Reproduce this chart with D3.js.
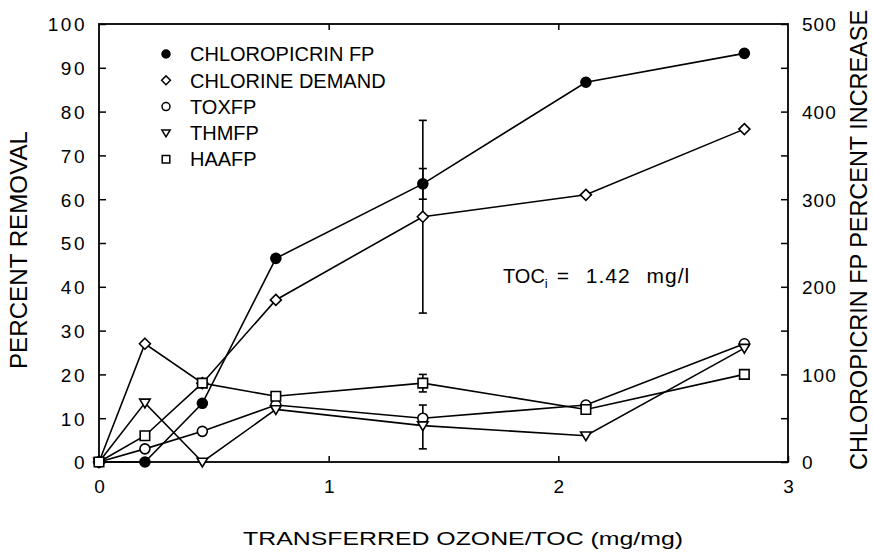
<!DOCTYPE html>
<html><head><meta charset="utf-8">
<script src="https://cdn.jsdelivr.net/npm/d3@7"></script>
<style>
body{margin:0;background:#fff}
svg text{font-family:"Liberation Sans",Arial,Helvetica,sans-serif;fill:#000}
</style>
</head><body>
<svg id="c" width="873" height="555"></svg>
<script>
// ---- data ----
const xValues = [0, 0.2, 0.45, 0.77, 1.41, 2.12, 2.81];
const chloropicrinFP = [0, 0, 13.4, 46.5, 63.5, 86.7, 93.3];
const chlorineDemand = [0, 27, 18, 37, 56, 61, 76];
const toxFP = [0, 3, 7, 13, 10, 13, 27];
const thmFP = [0, 13.5, 0, 12, 8.3, 6, 26];
const haaFP = [0, 6, 18, 15, 18, 12, 20];
const seriesNames = ["CHLOROPICRIN FP", "CHLORINE DEMAND", "TOXFP", "THMFP", "HAAFP"];
const seriesSymbols = ["filledCircle", "diamond", "circle", "triangle", "square"];
// error bars at the 5th x value
const errorX = [1.41, 1.41, 1.41, 1.41];
const errorLow = [34, 60, 3, 16];
const errorHigh = [78, 67, 13, 20];
const xTicks = [0, 1, 2, 3];
const yTicksLeft = [0, 10, 20, 30, 40, 50, 60, 70, 80, 90, 100];
const yTicksRight = [0, 100, 200, 300, 400, 500];
const yTicksRightAll = [0, 50, 100, 150, 200, 250, 300, 350, 400, 450, 500];
const xTitle = "TRANSFERRED OZONE/TOC (mg/mg)";
const yTitleLeft = "PERCENT REMOVAL";
const yTitleRight = "CHLOROPICRIN FP PERCENT INCREASE";
const annMain = "TOC", annSub = "i", annRest = "= 1.42 mg/l";

const allSeries = [chloropicrinFP, chlorineDemand, toxFP, thmFP, haaFP];

// ---- layout ----
const L = 99, R = 788, T = 24, B = 462;
const svg = d3.select("#c");
const x = d3.scaleLinear().domain([0, 3]).range([L, R]);
const y = d3.scaleLinear().domain([0, 100]).range([B, T]);
const y2 = d3.scaleLinear().domain([0, 500]).range([B, T]);

function symbolPath(type, s) {
  if (type === "filledCircle" || type === "circle") {
    return `M${s},0A${s},${s} 0 1,1 ${-s},0A${s},${s} 0 1,1 ${s},0Z`;
  }
  if (type === "diamond") { const d = s * 1.1; return `M0,${-d}L${d},0L0,${d}L${-d},0Z`; }
  if (type === "square") { const d = s * 0.95; return `M${-d},${-d}H${d}V${d}H${-d}Z`; }
  if (type === "triangle") { const w = s * 1.05; return `M${-w},${-s*0.75}H${w}L0,${s*1.0}Z`; }
}

// ---- frame ----
const g = svg.append("g");
g.append("rect").attr("x", L).attr("y", T).attr("width", R - L).attr("height", B - T)
  .attr("fill", "none").attr("stroke", "#000").attr("stroke-width", 1.8);

// left axis
const axL = d3.axisLeft(y).tickValues(yTicksLeft).tickSizeInner(-7).tickSizeOuter(0).tickPadding(12);
const gL = g.append("g").attr("transform", `translate(${L},0)`).call(axL);
gL.select(".domain").remove();
gL.selectAll("line").attr("stroke", "#000").attr("stroke-width", 1.5);
gL.selectAll("text").attr("font-size", 19).attr("letter-spacing", 2.5).attr("dy", "0.36em")
  .attr("font-family", "Liberation Sans, Arial, sans-serif");

// right axis
const axR = d3.axisRight(y2).tickValues(yTicksRightAll).tickSizeInner(-7).tickSizeOuter(0).tickPadding(14)
  .tickFormat(d => yTicksRight.includes(d) ? d : "");
const gR = g.append("g").attr("transform", `translate(${R},0)`).call(axR);
gR.select(".domain").remove();
gR.selectAll("line").attr("stroke", "#000").attr("stroke-width", 1.5);
gR.selectAll("text").attr("font-size", 19).attr("letter-spacing", 1).attr("dy", "0.36em")
  .attr("font-family", "Liberation Sans, Arial, sans-serif");

// bottom axis
const axB = d3.axisBottom(x).tickValues(xTicks).tickFormat(d3.format("d"))
  .tickSizeInner(-6).tickSizeOuter(0).tickPadding(18);
const gB = g.append("g").attr("transform", `translate(0,${B})`).call(axB);
gB.select(".domain").remove();
gB.selectAll("line").attr("stroke", "#000").attr("stroke-width", 1.5);
gB.selectAll("text").attr("font-size", 19).attr("font-family", "Liberation Sans, Arial, sans-serif");

// top axis
const axT = d3.axisTop(x).tickValues(xTicks.slice(1, 3)).tickSizeInner(-6).tickSizeOuter(0).tickFormat("");
const gT = g.append("g").attr("transform", `translate(0,${T})`).call(axT);
gT.select(".domain").remove();
gT.selectAll("line").attr("stroke", "#000").attr("stroke-width", 1.5);

// titles
svg.append("text").attr("x", 463).attr("y", 545).attr("text-anchor", "middle")
  .attr("font-size", 19).attr("textLength", 440).attr("lengthAdjust", "spacingAndGlyphs").text(xTitle);
svg.append("text").attr("transform", `translate(27,250) rotate(-90)`).attr("text-anchor", "middle")
  .attr("font-size", 24).attr("textLength", 238).attr("lengthAdjust", "spacingAndGlyphs").text(yTitleLeft);
svg.append("text").attr("transform", `translate(867,240) rotate(-90)`).attr("text-anchor", "middle")
  .attr("font-size", 23).attr("textLength", 460).attr("lengthAdjust", "spacingAndGlyphs").text(yTitleRight);

// annotation (single text element with subscript)
const ann = svg.append("text").attr("x", 503).attr("y", 283).attr("font-size", 20);
ann.append("tspan").text(annMain);
ann.append("tspan").attr("font-size", 13).attr("dy", 5).text(annSub);
ann.append("tspan").attr("dy", -5).attr("dx", 9).attr("font-size", 21)
  .attr("word-spacing", 9).attr("letter-spacing", 1).text(annRest);

// ---- lines ----
const line = d3.line().x((d, i) => x(xValues[i])).y(d => y(d));
allSeries.forEach(s => {
  svg.append("path").attr("d", line(s)).attr("fill", "none").attr("stroke", "#000").attr("stroke-width", 1.6);
});

// ---- error bars ----
errorX.forEach((ex, i) => {
  const cx = x(ex), cw = 4;
  const eg = svg.append("g").attr("stroke", "#000").attr("stroke-width", 1.6);
  eg.append("line").attr("x1", cx).attr("x2", cx).attr("y1", y(errorLow[i])).attr("y2", y(errorHigh[i]));
  eg.append("line").attr("x1", cx - cw).attr("x2", cx + cw).attr("y1", y(errorLow[i])).attr("y2", y(errorLow[i]));
  eg.append("line").attr("x1", cx - cw).attr("x2", cx + cw).attr("y1", y(errorHigh[i])).attr("y2", y(errorHigh[i]));
});

// ---- markers ----
allSeries.forEach((s, k) => {
  const type = seriesSymbols[k];
  svg.append("g").selectAll("path").data(s).join("path")
    .attr("transform", (d, i) => `translate(${x(xValues[i])},${y(d)})`)
    .attr("d", symbolPath(type, 5))
    .attr("fill", type === "filledCircle" ? "#000" : "#fff")
    .attr("stroke", "#000").attr("stroke-width", 1.6);
});

// ---- legend ----
const lg = svg.append("g");
seriesNames.forEach((name, k) => {
  const ly = 54 + k * 26.3;
  const type = seriesSymbols[k];
  lg.append("path").attr("transform", `translate(166,${ly})`).attr("d", symbolPath(type, 4))
    .attr("fill", type === "filledCircle" ? "#000" : "#fff").attr("stroke", "#000").attr("stroke-width", 1.5);
  lg.append("text").attr("x", 190).attr("y", ly).attr("dy", "0.36em").attr("font-size", 20).text(name);
});
</script>
</body></html>
